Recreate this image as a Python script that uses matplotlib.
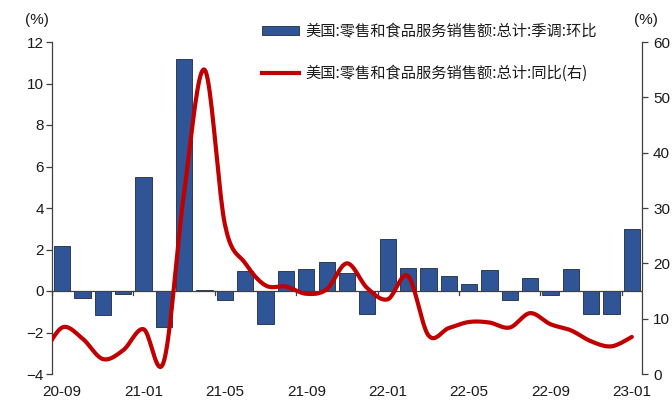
import numpy as np
import matplotlib
matplotlib.use("Agg")
import matplotlib.pyplot as plt
from matplotlib.patches import Patch
from matplotlib.lines import Line2D
import matplotlib.transforms as mtransforms

plt.rcParams['font.family'] = ['Liberation Sans', 'DejaVu Sans']

# month-on-month, seasonally adjusted (%), 20-09 .. 23-01
months = ['20-09', '20-10', '20-11', '20-12', '21-01', '21-02', '21-03', '21-04',
          '21-05', '21-06', '21-07', '21-08', '21-09', '21-10', '21-11', '21-12',
          '22-01', '22-02', '22-03', '22-04', '22-05', '22-06', '22-07', '22-08',
          '22-09', '22-10', '22-11', '22-12', '23-01']
mom = [2.15, -0.35, -1.15, -0.15, 5.5, -1.75, 11.2, 0.05,
       -0.45, 0.95, -1.6, 0.95, 1.05, 1.4, 0.85, -1.1,
       2.5, 1.1, 1.12, 0.7, 0.35, 1.0, -0.45, 0.65,
       -0.2, 1.05, -1.1, -1.1, 3.0]

# year-on-year (%), starts one month earlier (20-08) so the curve runs in from the left edge
yoy = [3.0, 8.4, 6.4, 2.7, 4.3, 8.1, 2.3, 33.0, 55.0,
       27.0, 20.0, 16.0, 15.8, 14.5, 15.3, 20.0, 15.5,
       13.5, 17.7, 7.0, 8.3, 9.4, 9.3, 8.4, 11.0,
       9.0, 7.9, 5.9, 5.0, 6.7]

label_mom = '美国:零售和食品服务销售额:总计:季调:环比'
label_yoy = '美国:零售和食品服务销售额:总计:同比(右)'

bar_color = '#2F5597'
line_color = '#C00000'


def smooth(xs, ys, n=20):
    # Catmull-Rom style smoothing like spreadsheet "smoothed line"
    xs = np.asarray(xs, float)
    ys = np.asarray(ys, float)
    px = np.concatenate([[xs[0]], xs, [xs[-1]]])
    py = np.concatenate([[ys[0]], ys, [ys[-1]]])
    out_x, out_y = [], []
    for i in range(1, len(px) - 2):
        t = np.linspace(0, 1, n, endpoint=False)
        for p, out in ((px, out_x), (py, out_y)):
            p0, p1, p2, p3 = p[i - 1], p[i], p[i + 1], p[i + 2]
            m1 = (p2 - p0) / 2
            m2 = (p3 - p1) / 2
            h00 = 2 * t**3 - 3 * t**2 + 1
            h10 = t**3 - 2 * t**2 + t
            h01 = -2 * t**3 + 3 * t**2
            h11 = t**3 - t**2
            out.extend(h00 * p1 + h10 * m1 + h01 * p2 + h11 * m2)
    out_x.append(xs[-1])
    out_y.append(ys[-1])
    return np.array(out_x), np.array(out_y)


fig = plt.figure(figsize=(6.72, 4.01), dpi=100)
ax = fig.add_axes([52 / 672, 1 - 374 / 401, 590 / 672, 332 / 401])
ax2 = ax.twinx()

x = np.arange(len(months))
ax.bar(x, mom, width=0.8, color=bar_color, edgecolor='#1F2A40', linewidth=0.6, zorder=2)

# zero line with ticks every four months
ax.axhline(0, color='#404040', linewidth=0.9, zorder=3)
for k in range(0, len(months) + 1, 4):
    ax.plot([k - 0.5, k - 0.5], [0, -0.2], color='#404040', linewidth=0.9, zorder=3,
            clip_on=False)

x_line = np.arange(-1, len(months))
sx, sy = smooth(x_line, yoy)
ax2.plot(sx, sy, color=line_color, linewidth=3, solid_capstyle='round', zorder=4)

ax.set_xlim(-0.5, len(months) - 0.5)
ax.set_ylim(-4, 12)
ax.set_yticks(np.arange(-4, 13, 2))
ax2.set_ylim(0, 60)
ax2.set_yticks(np.arange(0, 61, 10))

for a in (ax, ax2):
    a.spines['top'].set_visible(False)
    a.spines['bottom'].set_visible(False)
    a.set_xticks([])
ax.spines['right'].set_visible(False)
ax2.spines['left'].set_visible(False)
for side, a in (('left', ax), ('right', ax2)):
    a.spines[side].set_color('#404040')
    a.spines[side].set_linewidth(0.9)

ax.tick_params(axis='y', direction='out', length=4, width=0.9, color='#404040',
               labelsize=11, pad=2, labelcolor='#1a1a1a')
ax2.tick_params(axis='y', direction='out', length=4, width=0.9, color='#404040',
                labelsize=11, pad=4, labelcolor='#1a1a1a')

# date labels along the bottom
trans = mtransforms.blended_transform_factory(ax.transData, fig.transFigure)
for k in range(0, len(months), 4):
    ax.text(k, 1 - 392 / 401, months[k], transform=trans, ha='center', va='center',
            fontsize=11, color='#1a1a1a')

fig.text(37 / 672, 1 - 20 / 401, '(%)', ha='center', va='center', fontsize=11, color='#1a1a1a')
fig.text(646 / 672, 1 - 20 / 401, '(%)', ha='center', va='center', fontsize=11, color='#1a1a1a')

handles = [Patch(facecolor=bar_color, edgecolor='#1F2A40', linewidth=0.6),
           Line2D([], [], color=line_color, linewidth=3)]
leg = fig.legend(handles, [label_mom, label_yoy], loc='upper left',
                 bbox_to_anchor=(262 / 672, 1 - 23 / 401), frameon=False,
                 handlelength=2.4, handleheight=0.5, handletextpad=0.45,
                 labelspacing=1.65, borderpad=0, borderaxespad=0,
                 prop={'family': ['Noto Sans CJK SC', 'DejaVu Sans'], 'size': 11})
for t in leg.get_texts():
    t.set_color('#1a1a1a')

fig.savefig('out.png', dpi=100)
